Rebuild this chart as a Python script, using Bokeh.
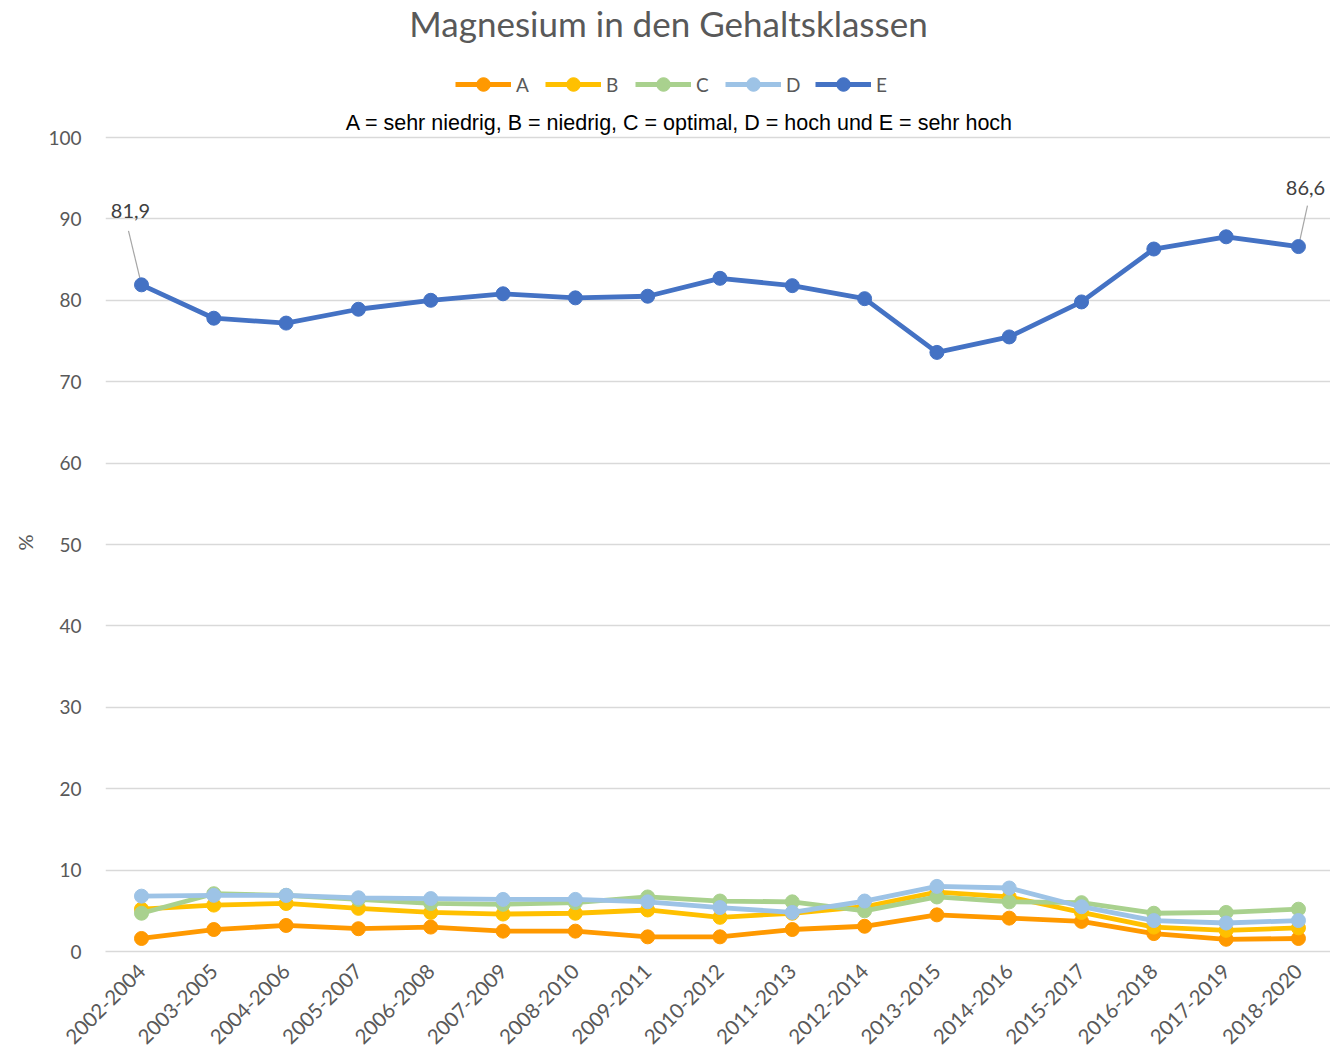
import math
import numpy as np
from bokeh.plotting import figure
from bokeh.models import (ColumnDataSource, Range1d, FixedTicker, Legend, LegendItem,
                          Label, LabelSet, Title)
from bokeh.core.properties import value
from bokeh.embed import file_html
from bokeh.resources import INLINE

# ---------------- data ----------------
periods = ["2002-2004", "2003-2005", "2004-2006", "2005-2007", "2006-2008", "2007-2009",
           "2008-2010", "2009-2011", "2010-2012", "2011-2013", "2012-2014", "2013-2015",
           "2014-2016", "2015-2017", "2016-2018", "2017-2019", "2018-2020"]
a_vals = [1.6, 2.7, 3.2, 2.8, 3.0, 2.5, 2.5, 1.8, 1.8, 2.7, 3.1, 4.5, 4.1, 3.7, 2.2, 1.5, 1.6]
b_vals = [5.2, 5.7, 5.9, 5.3, 4.8, 4.6, 4.7, 5.1, 4.2, 4.7, 5.5, 7.3, 6.7, 4.8, 3.0, 2.6, 2.9]
c_vals = [4.7, 7.1, 6.9, 6.4, 5.9, 5.8, 6.0, 6.7, 6.2, 6.1, 5.0, 6.7, 6.1, 6.0, 4.7, 4.8, 5.2]
d_vals = [6.8, 6.9, 6.9, 6.6, 6.5, 6.4, 6.4, 6.1, 5.4, 4.8, 6.2, 8.0, 7.8, 5.5, 3.8, 3.5, 3.8]
e_vals = [81.9, 77.8, 77.2, 78.9, 80.0, 80.8, 80.3, 80.5, 82.7, 81.8, 80.2, 73.6, 75.5, 79.8,
          86.3, 87.8, 86.6]
series_names = ["A", "B", "C", "D", "E"]
y_ticks = list(range(0, 101, 10))
title_text = "Magnesium in den Gehaltsklassen"
subtitle_text = "A = sehr niedrig, B = niedrig, C = optimal, D = hoch und E = sehr hoch"
y_label = "%"

# ---------------- styles ----------------
colors = ["#FF9900", "#FFC000", "#A9D18E", "#9DC3E6", "#4472C4"]
text_gray = "#595959"
grid_gray = "#D9D9D9"
font = "Lato"

x = list(range(len(periods)))
px_per_y = 8.14          # pixels per % on the y axis
px_per_x = 72.31         # pixels per category step
frame_bottom = 951       # pixel row of the zero line

p = figure(width=1330, height=1053, output_backend="svg", toolbar_location=None,
           x_range=Range1d(-36 / px_per_x, (1330 - 141) / px_per_x),
           y_range=Range1d(0, frame_bottom / px_per_y),
           min_border_left=105, min_border_right=0, min_border_top=0, min_border_bottom=100)
p.outline_line_color = None
p.background_fill_color = "white"
p.border_fill_color = "white"

p.xgrid.visible = False
p.ygrid.ticker = FixedTicker(ticks=y_ticks)
p.ygrid.grid_line_color = grid_gray
p.ygrid.grid_line_width = 1.3

p.yaxis.ticker = FixedTicker(ticks=y_ticks)
p.yaxis.axis_line_color = None
p.yaxis.major_tick_line_color = None
p.yaxis.minor_tick_line_color = None
p.yaxis.major_label_text_font = font
p.yaxis.major_label_text_font_size = "19px"
p.yaxis.major_label_text_color = text_gray
p.yaxis.major_label_standoff = 18

p.xaxis.ticker = FixedTicker(ticks=x)
p.xaxis.major_label_overrides = {i: s for i, s in enumerate(periods)}
p.xaxis.major_label_orientation = math.pi / 4
p.xaxis.axis_line_color = grid_gray
p.xaxis.axis_line_width = 1.3
p.xaxis.major_tick_line_color = None
p.xaxis.minor_tick_line_color = None
p.xaxis.major_label_text_font = font
p.xaxis.major_label_text_font_size = "20.5px"
p.xaxis.major_label_text_color = text_gray
p.xaxis.major_label_standoff = 10

# y axis title "%"
p.add_layout(Title(text=y_label, align="left", offset=401, standoff=18, text_font=font,
                   text_font_size="20px", text_color=text_gray, text_font_style="normal"),
             "left")

# leader lines for data labels (first and last E point)
idx = [0, len(e_vals) - 1]
lead_dx = [-13, 9]
lead_dy = [54, 41]
seg = ColumnDataSource(dict(
    x0=[x[i] for i in idx], y0=[e_vals[i] for i in idx],
    x1=[x[i] + dx / px_per_x for i, dx in zip(idx, lead_dx)],
    y1=[e_vals[i] + dy / px_per_y for i, dy in zip(idx, lead_dy)]))
p.segment("x0", "y0", "x1", "y1", source=seg, line_color="#A6A6A6", line_width=1.2)

items = []
for name, vals, col in zip(series_names, [a_vals, b_vals, c_vals, d_vals, e_vals], colors):
    src = ColumnDataSource(dict(x=x, y=vals))
    r1 = p.line("x", "y", source=src, line_color=col, line_width=4.8)
    r2 = p.scatter("x", "y", source=src, size=14, fill_color=col, line_color=col)
    items.append(LegendItem(label=name, renderers=[r1, r2]))

legend = Legend(items=items, orientation="horizontal", location=(350, 850),
                glyph_width=56, glyph_height=34, label_standoff=5, spacing=9,
                padding=0, margin=0, label_text_font=font, label_text_font_size="19px",
                label_text_color=text_gray, border_line_color=None,
                background_fill_alpha=0)
p.add_layout(legend, "center")

# data labels
lab = ColumnDataSource(dict(
    x=[x[i] for i in idx], y=[e_vals[i] for i in idx],
    text=[f"{e_vals[i]:.1f}".replace(".", ",") for i in idx],
    xo=[-11, 7], yo=[74, 59]))
p.add_layout(LabelSet(x="x", y="y", text="text", source=lab, x_offset="xo", y_offset="yo",
                      text_align="center", text_baseline="middle", text_font=value(font),
                      text_font_size=value("20px"), text_color=value("#404040")))

# title and subtitle
p.add_layout(Label(x=(668 - 141) / px_per_x, y=(frame_bottom - 22) / px_per_y, text=title_text,
                   text_align="center", text_baseline="middle", text_font=font,
                   text_font_size="35px", text_color=text_gray))
p.add_layout(Label(x=(679 - 141) / px_per_x, y=(frame_bottom - 122) / px_per_y,
                   text=subtitle_text, text_align="center", text_baseline="middle",
                   text_font="Liberation Sans", text_font_size="21.5px",
                   text_color="#000000"))

open("out.html", "w").write(file_html(p, INLINE))
